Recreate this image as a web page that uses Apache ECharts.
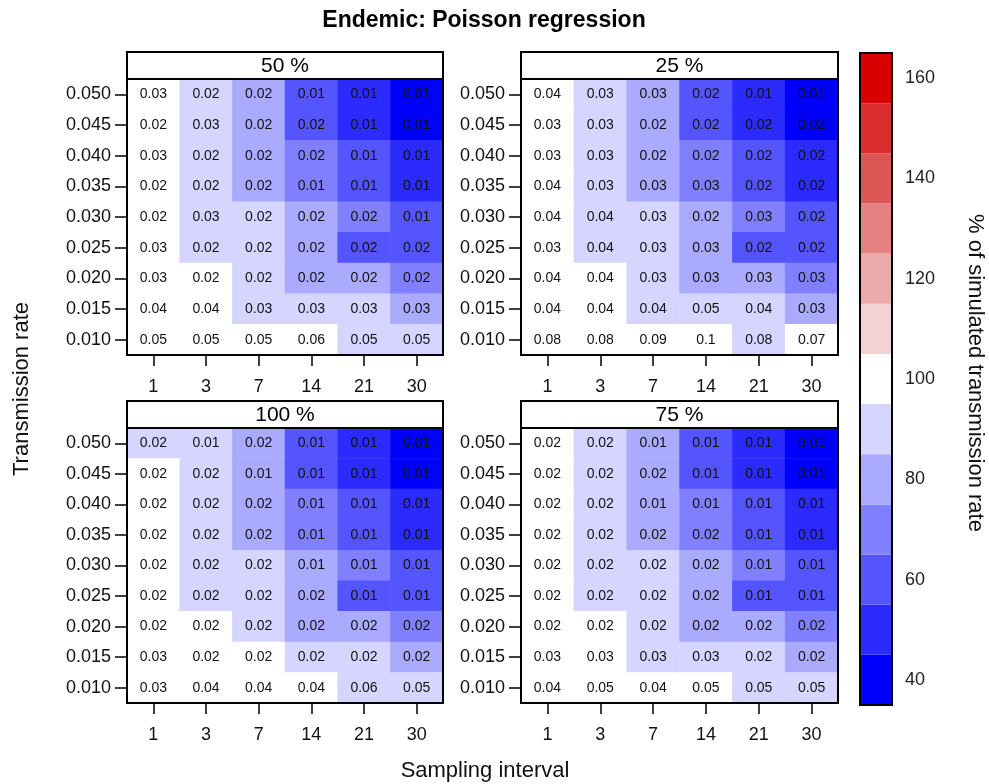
<!DOCTYPE html>
<html><head><meta charset="utf-8">
<script src="https://cdn.jsdelivr.net/npm/echarts@6/dist/echarts.min.js"></script>
<style>html,body{margin:0;padding:0;background:#fff}#c{width:989px;height:784px}</style>
</head><body><div id="c"></div>
<script>
// ---------------- data ----------------
const samplingIntervals = ['1', '3', '7', '14', '21', '30'];
const transmissionRates = ['0.010', '0.015', '0.020', '0.025', '0.030', '0.035', '0.040', '0.045', '0.050'];
const panelTitles = ['50 %', '25 %', '100 %', '75 %'];

// % of simulated transmission rate (colour), rows from 0.050 (top) to 0.010 (bottom)
const pct50 = [
  [100, 90, 80, 60, 50, 40],
  [100, 90, 80, 60, 50, 40],
  [100, 90, 80, 70, 60, 50],
  [100, 90, 80, 70, 60, 50],
  [100, 90, 90, 80, 70, 60],
  [100, 90, 90, 80, 60, 60],
  [100, 100, 90, 80, 80, 70],
  [100, 100, 90, 90, 90, 80],
  [100, 100, 100, 100, 90, 90]
];
const pct25 = [
  [100, 90, 80, 60, 50, 40],
  [100, 90, 80, 60, 50, 40],
  [100, 90, 80, 70, 60, 50],
  [100, 90, 80, 70, 60, 50],
  [100, 90, 90, 80, 70, 60],
  [100, 90, 90, 80, 60, 60],
  [100, 100, 90, 80, 80, 70],
  [100, 100, 90, 90, 90, 80],
  [100, 100, 100, 100, 90, 100]
];
const pct100 = [
  [90, 90, 80, 60, 50, 40],
  [100, 90, 80, 60, 50, 40],
  [100, 90, 80, 70, 60, 50],
  [100, 90, 80, 70, 60, 50],
  [100, 90, 90, 80, 70, 60],
  [100, 90, 90, 80, 60, 60],
  [100, 100, 90, 80, 80, 70],
  [100, 100, 100, 90, 90, 80],
  [100, 100, 100, 100, 90, 90]
];
const pct75 = [
  [100, 90, 80, 60, 50, 40],
  [100, 90, 80, 60, 50, 40],
  [100, 90, 80, 70, 60, 50],
  [100, 90, 80, 70, 60, 50],
  [100, 90, 90, 80, 70, 60],
  [100, 90, 90, 80, 60, 60],
  [100, 100, 90, 80, 80, 70],
  [100, 100, 90, 90, 90, 80],
  [100, 100, 100, 100, 90, 90]
];

// cell text values, rows from 0.050 (top) to 0.010 (bottom)
const txt50 = [
  ['0.03', '0.02', '0.02', '0.01', '0.01', '0.01'],
  ['0.02', '0.03', '0.02', '0.02', '0.01', '0.01'],
  ['0.03', '0.02', '0.02', '0.02', '0.01', '0.01'],
  ['0.02', '0.02', '0.02', '0.01', '0.01', '0.01'],
  ['0.02', '0.03', '0.02', '0.02', '0.02', '0.01'],
  ['0.03', '0.02', '0.02', '0.02', '0.02', '0.02'],
  ['0.03', '0.02', '0.02', '0.02', '0.02', '0.02'],
  ['0.04', '0.04', '0.03', '0.03', '0.03', '0.03'],
  ['0.05', '0.05', '0.05', '0.06', '0.05', '0.05']
];
const txt25 = [
  ['0.04', '0.03', '0.03', '0.02', '0.01', '0.01'],
  ['0.03', '0.03', '0.02', '0.02', '0.02', '0.02'],
  ['0.03', '0.03', '0.02', '0.02', '0.02', '0.02'],
  ['0.04', '0.03', '0.03', '0.03', '0.02', '0.02'],
  ['0.04', '0.04', '0.03', '0.02', '0.03', '0.02'],
  ['0.03', '0.04', '0.03', '0.03', '0.02', '0.02'],
  ['0.04', '0.04', '0.03', '0.03', '0.03', '0.03'],
  ['0.04', '0.04', '0.04', '0.05', '0.04', '0.03'],
  ['0.08', '0.08', '0.09', '0.1', '0.08', '0.07']
];
const txt100 = [
  ['0.02', '0.01', '0.02', '0.01', '0.01', '0.01'],
  ['0.02', '0.02', '0.01', '0.01', '0.01', '0.01'],
  ['0.02', '0.02', '0.02', '0.01', '0.01', '0.01'],
  ['0.02', '0.02', '0.02', '0.01', '0.01', '0.01'],
  ['0.02', '0.02', '0.02', '0.01', '0.01', '0.01'],
  ['0.02', '0.02', '0.02', '0.02', '0.01', '0.01'],
  ['0.02', '0.02', '0.02', '0.02', '0.02', '0.02'],
  ['0.03', '0.02', '0.02', '0.02', '0.02', '0.02'],
  ['0.03', '0.04', '0.04', '0.04', '0.06', '0.05']
];
const txt75 = [
  ['0.02', '0.02', '0.01', '0.01', '0.01', '0.01'],
  ['0.02', '0.02', '0.02', '0.01', '0.01', '0.01'],
  ['0.02', '0.02', '0.01', '0.01', '0.01', '0.01'],
  ['0.02', '0.02', '0.02', '0.02', '0.01', '0.01'],
  ['0.02', '0.02', '0.02', '0.02', '0.01', '0.01'],
  ['0.02', '0.02', '0.02', '0.02', '0.01', '0.01'],
  ['0.02', '0.02', '0.02', '0.02', '0.02', '0.02'],
  ['0.03', '0.03', '0.03', '0.03', '0.02', '0.02'],
  ['0.04', '0.05', '0.04', '0.05', '0.05', '0.05']
];

const colorbarBreaks = [35, 45, 55, 65, 75, 85, 95, 105, 115, 125, 135, 145, 155, 165];
const colorbarColors = ['#0000FF', '#2B2BFF', '#5555FF', '#8080FF', '#AAAAFF', '#D5D5FF', '#FFFFFF',
  '#F2D2D2', '#EAAAAA', '#E38080', '#DD5656', '#DA2E2E', '#D80000'];
const colorbarTicks = [40, 60, 80, 100, 120, 140, 160];

// ---------------- layout ----------------
const FONT = '"Liberation Sans", Arial, Helvetica, sans-serif';
const panels = [
  { left: 127, top: 79, width: 316, height: 276, pct: pct50, txt: txt50, title: panelTitles[0] },
  { left: 521, top: 79, width: 317, height: 276, pct: pct25, txt: txt25, title: panelTitles[1] },
  { left: 127, top: 428, width: 316, height: 275, pct: pct100, txt: txt100, title: panelTitles[2] },
  { left: 521, top: 428, width: 317, height: 275, pct: pct75, txt: txt75, title: panelTitles[3] }
];
const STRIP_H = 27;
const cb = { left: 860, top: 53, width: 32, height: 652 };

const grids = [], xAxes = [], yAxes = [], series = [], graphics = [];
panels.forEach((p, i) => {
  grids.push({ left: p.left, top: p.top, width: p.width, height: p.height, containLabel: false });
  xAxes.push({
    type: 'category', gridIndex: i, data: samplingIntervals, position: 'bottom',
    axisLine: { show: false },
    axisTick: { show: true, alignWithLabel: true, length: 11, lineStyle: { color: '#000', width: 1.5 } },
    axisLabel: { margin: 23, color: '#111', fontSize: 18, fontFamily: FONT },
    splitLine: { show: false }
  });
  yAxes.push({
    type: 'category', gridIndex: i, data: transmissionRates, position: 'left',
    axisLine: { show: false },
    axisTick: { show: true, alignWithLabel: true, length: 12, lineStyle: { color: '#000', width: 1.5 } },
    axisLabel: { margin: 16, color: '#111', fontSize: 18, fontFamily: FONT },
    splitLine: { show: false }
  });
  const data = [];
  const nR = transmissionRates.length;
  p.pct.forEach((row, r) => row.forEach((v, c) => data.push([c, nR - 1 - r, v, p.txt[r][c]])));
  series.push({
    type: 'heatmap', xAxisIndex: i, yAxisIndex: i, data: data,
    itemStyle: { borderWidth: 0 },
    label: {
      show: true, color: '#111', fontSize: 14, fontFamily: FONT,
      formatter: (prm) => prm.data[3]
    },
    emphasis: { disabled: true }
  });
  graphics.push({
    type: 'rect', z: 100, silent: true,
    shape: { x: p.left, y: p.top, width: p.width, height: p.height },
    style: { fill: 'none', stroke: '#000', lineWidth: 2 }
  });
  graphics.push({
    type: 'rect', z: 100, silent: true,
    shape: { x: p.left, y: p.top - STRIP_H, width: p.width, height: STRIP_H },
    style: { fill: '#fff', stroke: '#000', lineWidth: 2 }
  });
  graphics.push({
    type: 'text', z: 101, silent: true,
    x: p.left + p.width / 2, y: p.top - STRIP_H / 2 + 1,
    style: { text: p.title, font: '21px ' + FONT, fill: '#000', align: 'center', verticalAlign: 'middle' }
  });
});

// colorbar grid
grids.push({ left: cb.left, top: cb.top, width: cb.width, height: cb.height });
xAxes.push({ type: 'value', gridIndex: 4, min: 0, max: 1, show: false });
yAxes.push({
  type: 'value', gridIndex: 4, position: 'right', min: 35, max: 165,
  axisLine: { show: false },
  splitLine: { show: false },
  axisTick: { show: true, length: 9, customValues: colorbarTicks, lineStyle: { color: '#000', width: 1.5 } },
  axisLabel: { show: true, margin: 13, customValues: colorbarTicks, color: '#222', fontSize: 18, fontFamily: FONT }
});
const cbData = colorbarColors.map((c, i) => [colorbarBreaks[i], colorbarBreaks[i + 1], i]);
series.push({
  type: 'custom', xAxisIndex: 4, yAxisIndex: 4, data: cbData, silent: true,
  renderItem: (params, api) => {
    const a = api.coord([0, api.value(0)]);
    const b = api.coord([1, api.value(1)]);
    return {
      type: 'rect',
      shape: { x: a[0], y: b[1], width: b[0] - a[0], height: a[1] - b[1] },
      style: { fill: colorbarColors[api.value(2)], stroke: null }
    };
  }
});
graphics.push({
  type: 'rect', z: 100, silent: true,
  shape: { x: cb.left, y: cb.top, width: cb.width, height: cb.height },
  style: { fill: 'none', stroke: '#000', lineWidth: 2 }
});

// titles
graphics.push({
  type: 'text', silent: true, x: 484, y: 21,
  style: { text: 'Endemic: Poisson regression', font: 'bold 23px ' + FONT, fill: '#000', align: 'center', verticalAlign: 'middle' }
});
graphics.push({
  type: 'text', silent: true, x: 485, y: 771,
  style: { text: 'Sampling interval', font: '22px ' + FONT, fill: '#111', align: 'center', verticalAlign: 'middle' }
});
graphics.push({
  type: 'text', silent: true, x: 22, y: 389, rotation: Math.PI / 2,
  style: { text: 'Transmission rate', font: '22px ' + FONT, fill: '#111', align: 'center', verticalAlign: 'middle' }
});
graphics.push({
  type: 'text', silent: true, x: 975, y: 373, rotation: -Math.PI / 2,
  style: { text: '% of simulated transmission rate', font: '22px ' + FONT, fill: '#111', align: 'center', verticalAlign: 'middle' }
});

const pieces = colorbarColors.map((c, i) => ({ gte: colorbarBreaks[i], lt: colorbarBreaks[i + 1], color: c }));

const chart = echarts.init(document.getElementById('c'), null, { renderer: 'canvas' });
chart.setOption({
  backgroundColor: '#fff',
  animation: false,
  grid: grids,
  xAxis: xAxes,
  yAxis: yAxes,
  visualMap: [{ type: 'piecewise', show: false, dimension: 2, seriesIndex: [0, 1, 2, 3], pieces: pieces }],
  series: series,
  graphic: graphics
});
</script></body></html>
